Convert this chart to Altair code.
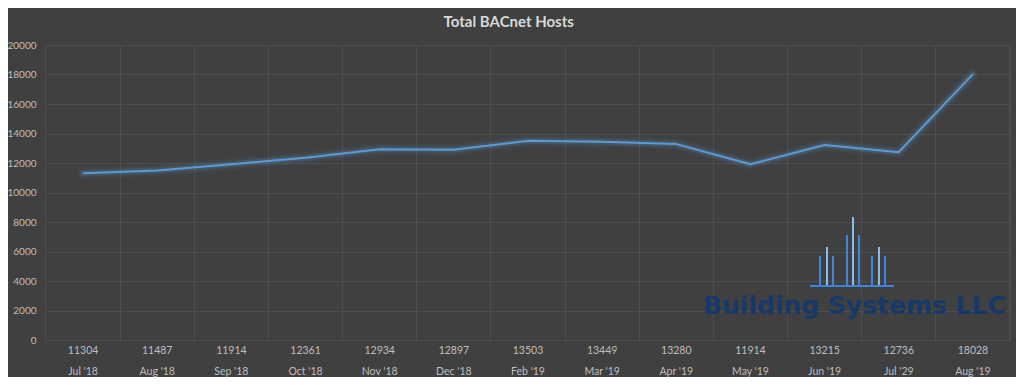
import altair as alt
import pandas as pd

months = ["Jul '18", "Aug '18", "Sep '18", "Oct '18", "Nov '18", "Dec '18", "Feb '19",
          "Mar '19", "Apr '19", "May '19", "Jun '19", "Jul '29", "Aug '19"]
hosts = [11304, 11487, 11914, 12361, 12934, 12897, 13503, 13449, 13280, 11914, 13215, 12736, 18028]
y_ticks = [0, 2000, 4000, 6000, 8000, 10000, 12000, 14000, 16000, 18000, 20000]

# watermark logo geometry (pixel units inside the plot area)
logo_bar_x = [774, 781, 787, 801, 807, 813, 826, 833, 839]
logo_bar_top = [211, 202, 211, 190, 172, 190, 211, 202, 211]
logo_bar_light = [0, 1, 0, 0, 1, 0, 0, 1, 0]
logo_base = [764, 848, 241]

W, H = 964, 295
df = pd.DataFrame({"month": months, "hosts": hosts})
logo_df = pd.DataFrame({"lx": logo_bar_x, "ly": logo_bar_top, "ly2": [logo_base[2]] * len(logo_bar_x),
                        "light": logo_bar_light})
base_df = pd.DataFrame({"lx": [logo_base[0]], "lx2": [logo_base[1]], "ly": [logo_base[2]]})

FONT = "Lato"
LBL = "#bfbfbf"
LINE = "#5b9bd5"

xenc = alt.X("month:N", sort=months, bandPosition=0.5,
             scale=alt.Scale(type="band", paddingInner=0, paddingOuter=0),
             axis=alt.Axis(labels=False, ticks=False, domain=False, grid=True, bandPosition=0,
                           gridColor="#4e4e4e", title=None))
yenc = alt.Y("hosts:Q", scale=alt.Scale(domain=[0, 20000], nice=False),
             axis=alt.Axis(values=y_ticks, format="d", ticks=False, domain=False, grid=True,
                           gridColor="#4e4e4e", labelColor=LBL, labelFont=FONT, labelFontSize=10,
                           labelPadding=10, title=None))

base = alt.Chart(df)
glow1 = base.mark_line(color=LINE, strokeWidth=11, opacity=0.08, strokeCap="round", strokeJoin="round").encode(x=xenc, y=yenc)
glow2 = base.mark_line(color=LINE, strokeWidth=6, opacity=0.18, strokeCap="round", strokeJoin="round").encode(x=xenc, y=yenc)
line = base.mark_line(color=LINE, strokeWidth=2, strokeJoin="round").encode(x=xenc, y=yenc)

xt = alt.X("month:N", sort=months, bandPosition=0.5)
vals = base.mark_text(color=LBL, font=FONT, fontSize=10.5, baseline="middle").encode(
    x=xt, y=alt.value(306), text=alt.Text("hosts:Q", format="d"))
mons = base.mark_text(color=LBL, font=FONT, fontSize=10.5, baseline="middle").encode(
    x=xt, y=alt.value(327), text="month:N")

edge = base.mark_rule(color="#4e4e4e").encode(x=alt.value(W), y=alt.value(0), y2=alt.value(H))

main = alt.layer(glow1, glow2, line, vals, mons, edge)

bars = alt.Chart(logo_df).mark_rule(strokeWidth=2).encode(
    x=alt.X("lx:Q", scale=None, axis=None),
    y=alt.Y("ly:Q", scale=None, axis=None),
    y2="ly2:Q",
    color=alt.Color("light:N", scale=alt.Scale(domain=[0, 1], range=["#3a86e0", "#8fbbe8"]), legend=None),
)
baseline = alt.Chart(base_df).mark_rule(strokeWidth=2, color="#3a86e0").encode(
    x=alt.X("lx:Q", scale=None, axis=None), x2="lx2:Q",
    y=alt.Y("ly:Q", scale=None, axis=None),
)
logo_text = alt.Chart(base_df).mark_text(text="Building Systems LLC", font="DejaVu Sans", fontSize=25,
                                         fontWeight="bold", color="#16396a", align="left",
                                         baseline="alphabetic").encode(
    x=alt.value(657), y=alt.value(269))

logo = alt.layer(logo_text, bars, baseline)

chart = alt.layer(logo, main).resolve_scale(x="independent", y="independent", color="independent").properties(
    width=W, height=H,
    autosize=alt.AutoSizeParams(type="none"),
    padding={"left": 38, "top": 37, "right": 6, "bottom": 37},
    background="#404040",
    title=alt.TitleParams("Total BACnet Hosts", font=FONT, fontSize=15, fontWeight="bold",
                          color="#d9d9d9", anchor="middle", frame="bounds", offset=10),
).configure_view(stroke=None)

chart.save("out.html", embed_options={"renderer": "svg", "actions": False})
